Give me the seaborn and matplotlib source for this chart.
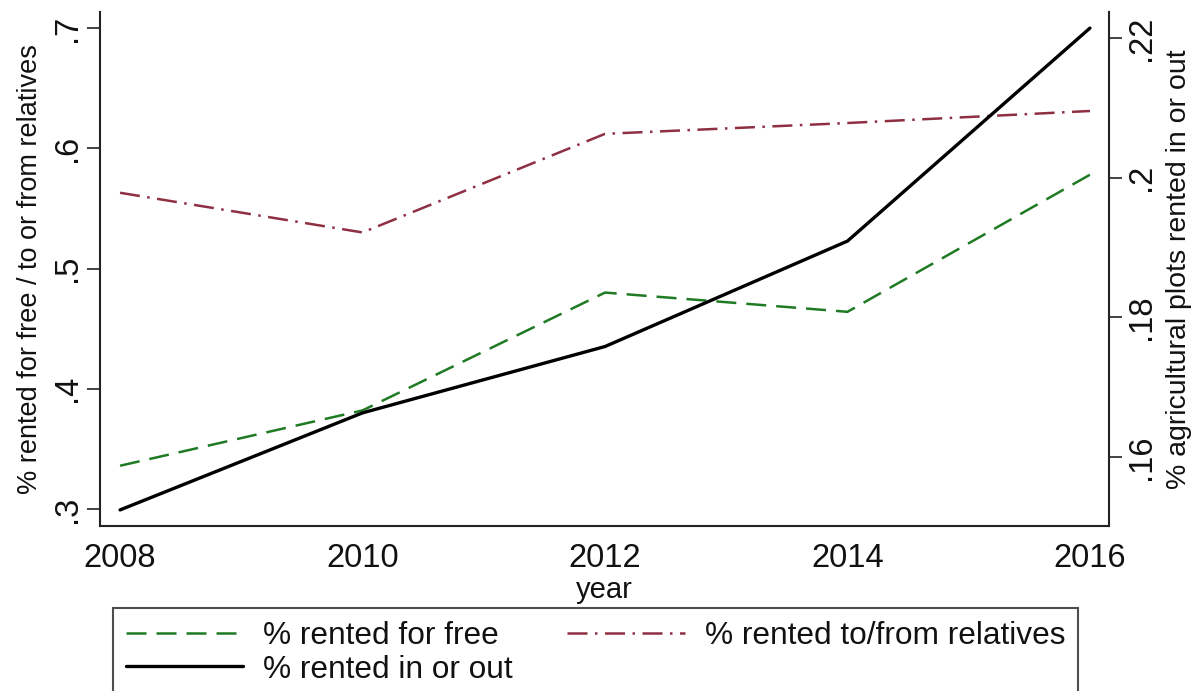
import pandas as pd
import numpy as np
import seaborn as sns
import matplotlib.pyplot as plt

# Data
years = [2008, 2010, 2012, 2014, 2016]
rented_free = [0.336, 0.382, 0.480, 0.464, 0.578]
rented_relatives = [0.563, 0.530, 0.612, 0.621, 0.631]
rented_in_out = [0.1524, 0.1663, 0.1758, 0.1909, 0.2214]

left_ticks = [0.3, 0.4, 0.5, 0.6, 0.7]
left_ticklabels = ['.3', '.4', '.5', '.6', '.7']
right_ticks = [0.16, 0.18, 0.20, 0.22]
right_ticklabels = ['.16', '.18', '.2', '.22']
x_ticks = [2008, 2010, 2012, 2014, 2016]

df = pd.DataFrame({'year': years, 'free': rented_free,
                   'relatives': rented_relatives, 'inout': rented_in_out})

sns.set_style('white')
plt.rcParams['font.family'] = ['Liberation Sans', 'DejaVu Sans']

green = '#1f7a24'
maroon = '#8e2f42'

fig = plt.figure(figsize=(11.94, 6.91), dpi=100)
ax = fig.add_axes([0.0838, 0.2388, 0.845, 0.7438])
ax2 = ax.twinx()

sns.lineplot(x='year', y='free', data=df, ax=ax, color=green, lw=1.8,
             label='% rented for free', legend=False)
sns.lineplot(x='year', y='relatives', data=df, ax=ax, color=maroon, lw=1.8,
             label='% rented to/from relatives', legend=False)
sns.lineplot(x='year', y='inout', data=df, ax=ax2, color='black', lw=2.4,
             label='% rented in or out', legend=False)

l_free, l_rel = ax.get_lines()
l_io = ax2.get_lines()[0]
l_free.set_dashes([8, 4])
l_rel.set_dashes([8, 3, 1, 3])

ax.set_xlim(2007.835, 2016.157)
ax.set_ylim(0.2859, 0.7133)
ax2.set_ylim(0.1501, 0.2237)

ax.set_xticks(x_ticks)
ax.set_xticklabels([str(y) for y in x_ticks])
ax.set_yticks(left_ticks)
ax.set_yticklabels(left_ticklabels, rotation=90, va='center')
ax2.set_yticks(right_ticks)
ax2.set_yticklabels(right_ticklabels, rotation=90, va='center')

for a in (ax, ax2):
    a.tick_params(axis='both', which='major', length=9.5, width=1.2,
                  color='#222222', labelcolor='#111111', labelsize=23.5,
                  pad=3, direction='out')
    a.spines['top'].set_visible(False)
    for s in ('left', 'right', 'bottom'):
        a.spines[s].set_linewidth(1.5)
        a.spines[s].set_color('#222222')
ax.spines['right'].set_visible(False)
ax2.spines['left'].set_visible(False)
ax2.spines['bottom'].set_visible(False)

ax.set_xlabel('year', fontsize=21, labelpad=1, color='#111111')
ax.set_ylabel('% rented for free / to or from relatives', fontsize=19.5,
              labelpad=6, color='#111111')
ax2.set_ylabel('% agricultural plots rented in or out', fontsize=20.5,
               rotation=90, labelpad=6, color='#111111')
ax.grid(False)
ax2.grid(False)

leg = fig.legend([l_free, l_io, l_rel],
                 ['% rented for free', '% rented in or out',
                  '% rented to/from relatives'],
                 ncol=2, loc='upper left', bbox_to_anchor=(0.0946, 0.12),
                 fontsize=22.8, frameon=True, fancybox=False, handlelength=3.7,
                 handletextpad=0.63, columnspacing=1.74, labelspacing=0.12,
                 borderpad=0.4, borderaxespad=0)
leg.get_frame().set_edgecolor('#222222')
leg.get_frame().set_linewidth(1.5)
for t in leg.get_texts():
    t.set_color('#111111')

plt.savefig('out.png', dpi=100)
